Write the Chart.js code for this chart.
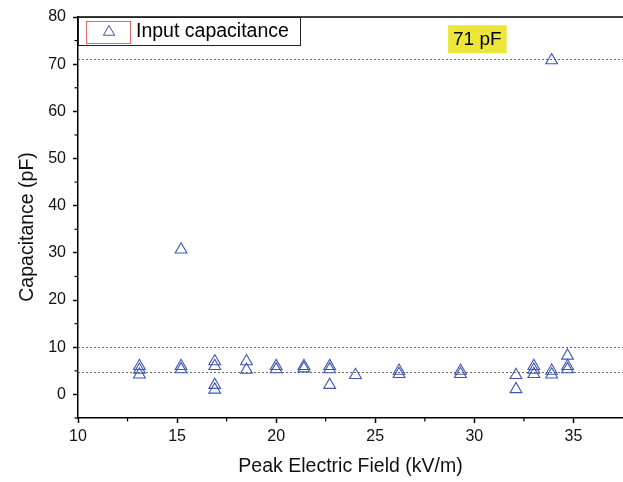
<!DOCTYPE html>
<html>
<head>
<meta charset="utf-8">
<script src="https://cdn.jsdelivr.net/npm/chart.js@4/dist/chart.umd.min.js"></script>
<style>
  html, body { margin: 0; padding: 0; background: #fff; }
  #c { display: block; }
</style>
</head>
<body>
<canvas id="c" width="623" height="482"></canvas>
<script>
// ---- data ----
const fieldKVm = [
  13.1, 13.1, 13.1,
  15.2, 15.2, 15.2,
  16.9, 16.9, 16.9, 16.9,
  18.5, 18.5,
  20.0, 20.0,
  21.4, 21.4,
  22.7, 22.7, 22.7,
  24.0,
  26.2, 26.2,
  29.3, 29.3,
  32.1, 32.1,
  33.0, 33.0, 33.0,
  33.9, 33.9, 33.9,
  34.7, 34.7, 34.7
];
const capacitancePF = [
  6.0, 5.2, 4.2,
  6.0, 5.3, 30.7,
  7.0, 6.0, 2.0, 1.0,
  7.0, 5.2,
  6.0, 5.3,
  6.0, 5.5,
  6.0, 5.3, 2.0,
  4.1,
  5.0, 4.3,
  5.0, 4.3,
  4.1, 1.1,
  6.0, 5.2, 4.3,
  5.0, 4.2, 70.8,
  8.2, 6.0, 5.3
];
const referenceLevels = [71, 10, 4.8];
const seriesLabel = 'Input capacitance';
const noteText = '71 pF';
const xTitle = 'Peak Electric Field (kV/m)';
const yTitle = 'Capacitance (pF)';

const FONT = '"Liberation Sans", Arial, sans-serif';
const points = fieldKVm.map((x, i) => ({ x: x, y: capacitancePF[i] }));

const decor = {
  id: 'decor',
  beforeDraw(chart) {
    const c = chart.ctx;
    c.save();
    c.fillStyle = '#fff';
    c.fillRect(0, 0, chart.width, chart.height);
    c.restore();
  },
  beforeDatasetsDraw(chart) {
    const c = chart.ctx, a = chart.chartArea, ys = chart.scales.y;
    c.save();
    c.strokeStyle = '#666';
    c.lineWidth = 1;
    c.setLineDash([2, 2]);
    referenceLevels.forEach(v => {
      const py = Math.round(ys.getPixelForValue(v)) + 0.5;
      c.beginPath();
      c.moveTo(a.left, py);
      c.lineTo(a.right, py);
      c.stroke();
    });
    c.restore();
  },
  afterDraw(chart) {
    const c = chart.ctx, a = chart.chartArea, xs = chart.scales.x, ys = chart.scales.y;
    c.save();
    // top frame line
    c.strokeStyle = '#000';
    c.lineWidth = 1.5;
    c.beginPath();
    c.moveTo(a.left, a.top);
    c.lineTo(a.right, a.top);
    c.stroke();
    // minor ticks
    c.lineWidth = 1.2;
    for (let v = 12.5; v < xs.max; v += 5) {
      const px = xs.getPixelForValue(v);
      c.beginPath();
      c.moveTo(px, a.bottom);
      c.lineTo(px, a.bottom + 3.5);
      c.stroke();
    }
    for (let v = -5; v < ys.max; v += 10) {
      const py = ys.getPixelForValue(v);
      c.beginPath();
      c.moveTo(a.left, py);
      c.lineTo(a.left - 3.5, py);
      c.stroke();
    }
    // y axis title (vertical)
    c.save();
    c.translate(28, ys.getPixelForValue(35.5));
    c.rotate(-Math.PI / 2);
    c.fillStyle = '#111';
    c.font = '19.5px ' + FONT;
    c.textAlign = 'center';
    c.textBaseline = 'middle';
    c.fillText(yTitle, 0, 0);
    c.restore();
    // legend box
    const lx = a.left, ly = a.top, lw = 222, lh = 28;
    c.fillStyle = '#fff';
    c.fillRect(lx, ly, lw, lh);
    c.strokeStyle = '#222';
    c.lineWidth = 1;
    c.strokeRect(lx + 0.5, ly + 0.5, lw, lh);
    c.strokeStyle = '#e8676a';
    c.strokeRect(lx + 8.5, ly + 4.5, 44, 22);
    // triangle marker in legend
    const tx = lx + 31, ty = ly + 15, r = 6.5;
    c.strokeStyle = '#3f56b5';
    c.beginPath();
    c.moveTo(tx, ty - r);
    c.lineTo(tx + r * 0.866, ty + r * 0.5);
    c.lineTo(tx - r * 0.866, ty + r * 0.5);
    c.closePath();
    c.stroke();
    c.fillStyle = '#000';
    c.font = '19.5px ' + FONT;
    c.textBaseline = 'middle';
    c.textAlign = 'left';
    c.fillText(seriesLabel, lx + 58, ly + 15);
    // "71 pF" note with yellow background
    const nx = xs.getPixelForValue(30.15), ny = ys.getPixelForValue(75.3);
    c.font = '19px ' + FONT;
    const tw = c.measureText(noteText).width;
    c.fillStyle = '#ece63b';
    c.fillRect(nx - tw / 2 - 5, ny - 14, tw + 10, 28);
    c.fillStyle = '#000';
    c.textAlign = 'center';
    c.fillText(noteText, nx, ny + 1);
    c.restore();
  }
};

new Chart(document.getElementById('c'), {
  type: 'scatter',
  data: {
    datasets: [{
      label: seriesLabel,
      data: points,
      pointStyle: 'triangle',
      pointRadius: 6.8,
      pointHoverRadius: 6.8,
      borderWidth: 1.1,
      borderColor: '#3f56b5',
      backgroundColor: 'rgba(255,255,255,0)'
    }]
  },
  options: {
    responsive: false,
    animation: false,
    events: [],
    layout: { autoPadding: false, padding: { top: 17, right: 0, left: 0, bottom: 0 } },
    plugins: { legend: { display: false }, tooltip: { enabled: false } },
    scales: {
      x: {
        type: 'linear',
        min: 10,
        max: 37.5,
        afterFit(s) { s.height = 64; s.paddingRight = 0; s.paddingLeft = 0; },
        border: { display: true, color: '#000', width: 1.5 },
        grid: { drawOnChartArea: false, drawTicks: true, tickLength: 5, tickColor: '#000', tickWidth: 1.5 },
        ticks: { stepSize: 5, includeBounds: false, color: '#111', padding: 4, maxRotation: 0,
                 font: { family: FONT, size: 16 } },
        title: { display: true, text: xTitle, color: '#111', padding: { top: 4, bottom: 4 },
                 font: { family: FONT, size: 19.5 } }
      },
      y: {
        type: 'linear',
        min: -5,
        max: 80,
        afterFit(s) { s.width = 78; s.paddingTop = 0; s.paddingBottom = 0; },
        border: { display: true, color: '#000', width: 1.5 },
        grid: { drawOnChartArea: false, drawTicks: true, tickLength: 5, tickColor: '#000', tickWidth: 1.5 },
        ticks: { stepSize: 10, includeBounds: false, color: '#111', padding: 7,
                 font: { family: FONT, size: 16 } },
        title: { display: false, text: yTitle }
      }
    }
  },
  plugins: [decor]
});
</script>
</body>
</html>
